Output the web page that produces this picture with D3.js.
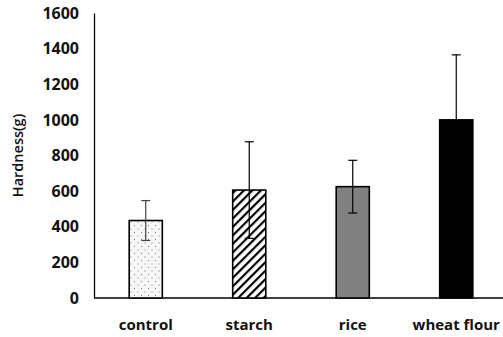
<!DOCTYPE html>
<html>
<head>
<meta charset="utf-8">
<script src="https://cdn.jsdelivr.net/npm/d3@7"></script>
<style>
  body { margin: 0; background: #fff; }
  svg { display: block; }
</style>
</head>
<body>
<div id="chart"></div>
<script>
const categories = ["control", "starch", "rice", "wheat flour"];
const means = [435, 606, 625, 1000];
const errors = [112, 271, 148, 365];
const yTicks = [0, 200, 400, 600, 800, 1000, 1200, 1400, 1600];

const width = 503;
const height = 337;
const margin = { left: 94, top: 13, bottom: 39, right: -5 };

const svg = d3
  .select("#chart")
  .append("svg")
  .attr("width", width)
  .attr("height", height);

const defs = svg.append("defs");

// dotted fill for control
const dots = defs
  .append("pattern")
  .attr("id", "dots")
  .attr("patternUnits", "userSpaceOnUse")
  .attr("width", 7)
  .attr("height", 7);
dots.append("rect").attr("width", 7).attr("height", 7).attr("fill", "#f7f7f7");
dots.append("rect").attr("x", 1).attr("y", 1).attr("width", 1).attr("height", 1).attr("fill", "#777");
dots.append("rect").attr("x", 4.5).attr("y", 4.5).attr("width", 1).attr("height", 1).attr("fill", "#777");

// diagonal hatching for starch
const hatch = defs
  .append("pattern")
  .attr("id", "hatch")
  .attr("patternUnits", "userSpaceOnUse")
  .attr("width", 6)
  .attr("height", 6)
  .attr("patternTransform", "rotate(45)");
hatch.append("rect").attr("width", 6).attr("height", 6).attr("fill", "#fff");
hatch.append("rect").attr("x", 0).attr("y", 0).attr("width", 2.2).attr("height", 6).attr("fill", "#000");

const fills = ["url(#dots)", "url(#hatch)", "#808080", "#000"];

const x = d3
  .scaleBand()
  .domain(categories)
  .range([margin.left, width - margin.right])
  .paddingInner(0.68)
  .paddingOuter(0.34);

const y = d3
  .scaleLinear()
  .domain([0, 1600])
  .range([height - margin.bottom, margin.top]);

const font = "'Open Sans', 'DejaVu Sans', Arial, sans-serif";

// y axis
const yAxis = svg
  .append("g")
  .attr("transform", `translate(${margin.left},0)`)
  .call(
    d3.axisLeft(y).tickValues(yTicks).tickFormat(d3.format("d")).tickSize(0).tickPadding(15)
  );
yAxis.select(".domain").attr("stroke", "#000").attr("stroke-width", 1.3);
yAxis
  .selectAll("text")
  .attr("font-family", font)
  .attr("font-weight", "bold")
  .attr("font-size", "16px")
  .attr("fill", "#111");

// x axis line
svg
  .append("line")
  .attr("x1", margin.left)
  .attr("x2", width)
  .attr("y1", y(0))
  .attr("y2", y(0))
  .attr("stroke", "#000")
  .attr("stroke-width", 1.3);

// bars
svg
  .selectAll("rect.bar")
  .data(categories)
  .join("rect")
  .attr("class", "bar")
  .attr("x", (d) => x(d))
  .attr("width", x.bandwidth())
  .attr("y", (d, i) => y(means[i]))
  .attr("height", (d, i) => y(0) - y(means[i]))
  .attr("fill", (d, i) => fills[i])
  .attr("stroke", "#000")
  .attr("stroke-width", 1.6);

// error bars
const err = svg
  .selectAll("g.err")
  .data(categories)
  .join("g")
  .attr("class", "err")
  .attr("stroke", (d, i) => (i === 0 ? "#444" : "#000"))
  .attr("stroke-width", 1.2);

err
  .append("line")
  .attr("x1", (d) => x(d) + x.bandwidth() / 2)
  .attr("x2", (d) => x(d) + x.bandwidth() / 2)
  .attr("y1", (d, i) => y(means[i] + errors[i]))
  .attr("y2", (d, i) => y(means[i] - errors[i]));

[1, -1].forEach((s) => {
  err
    .append("line")
    .attr("x1", (d) => x(d) + x.bandwidth() / 2 - 4.5)
    .attr("x2", (d) => x(d) + x.bandwidth() / 2 + 4.5)
    .attr("y1", (d, i) => y(means[i] + s * errors[i]))
    .attr("y2", (d, i) => y(means[i] + s * errors[i]));
});

// category labels
svg
  .selectAll("text.cat")
  .data(categories)
  .join("text")
  .attr("class", "cat")
  .attr("x", (d) => x(d) + x.bandwidth() / 2)
  .attr("y", 330)
  .attr("text-anchor", "middle")
  .attr("font-family", font)
  .attr("font-weight", "bold")
  .attr("font-size", "15px")
  .attr("fill", "#111")
  .text((d) => d);

// y title
svg
  .append("text")
  .attr("transform", `translate(23,${(y(0) + y(1600)) / 2}) rotate(-90)`)
  .attr("text-anchor", "middle")
  .attr("font-family", font)
  .attr("font-weight", "600")
  .attr("font-size", "14.5px")
  .attr("fill", "#111")
  .text("Hardness(g)");
</script>
</body>
</html>
